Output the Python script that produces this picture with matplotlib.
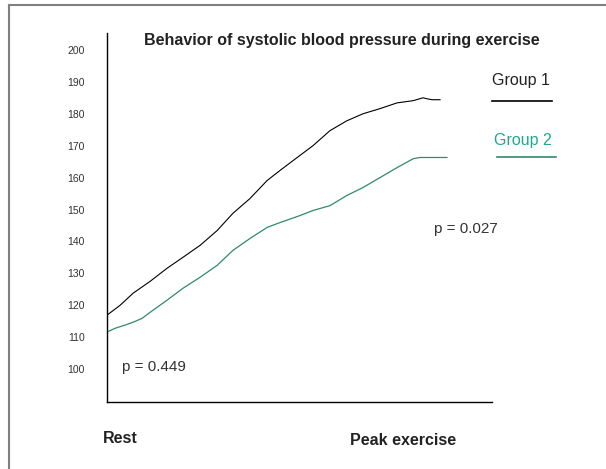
import matplotlib.pyplot as plt
from matplotlib.lines import Line2D

plt.rcParams['font.family'] = ['Liberation Sans', 'DejaVu Sans']

# exercise progress (% from rest to peak) and systolic pressure (mmHg)
g1_x = [0, 3.4, 6.8, 11.2, 15.6, 19.7, 24.2, 28.6, 32.7, 37.1, 41.6, 44.9, 49.4,
        53.5, 57.9, 62.3, 66.5, 70.9, 75.3, 79.5, 82.1, 83.1, 84.4, 86.5]
g1_y = [116.9, 120.0, 123.8, 127.5, 131.6, 135.0, 138.8, 143.4, 148.8, 153.4, 159.1,
        162.2, 166.3, 170.0, 174.7, 177.8, 180.0, 181.6, 183.4, 184.1, 185.0, 184.7,
        184.4, 184.4]
g2_x = [0, 2.1, 4.7, 6.8, 9.1, 11.2, 15.6, 19.7, 24.2, 28.6, 32.7, 37.1, 41.6, 44.9,
        50.1, 53.5, 57.9, 62.3, 66.5, 70.9, 75.3, 79.5, 81.3, 83.9, 88.3]
g2_y = [111.6, 112.8, 113.8, 114.7, 115.9, 117.8, 121.6, 125.3, 128.8, 132.5, 137.2,
        140.9, 144.4, 145.9, 148.1, 149.7, 151.2, 154.4, 156.9, 160.0, 163.1, 165.9,
        166.3, 166.3, 166.3]
yticks = list(range(100, 201, 10))
groups = ["Group 1", "Group 2"]
pvals = ["p = 0.449", "p = 0.027"]

line_green = '#2e8b6b'
text_green = '#1fa88c'

fig = plt.figure(figsize=(6.06, 4.69), dpi=100)
ax = fig.add_axes([107/606, 67/469, 385/606, 369/469])

ax.plot(g1_x, g1_y, color='black', lw=0.8)
ax.plot(g2_x, g2_y, color=line_green, lw=0.9)

ax.set_xlim(0, 100)
ax.set_ylim(89.7, 205.3)
ax.set_xticks([])
ax.set_yticks(yticks)
ax.tick_params(axis='y', length=0, pad=16, labelsize=7.5, labelcolor='#333333')
for s in ['top', 'right']:
    ax.spines[s].set_visible(False)
for s in ['left', 'bottom']:
    ax.spines[s].set_linewidth(1.0)

# group labels with short lines under them
ax.text(100, 190.3, groups[0], fontsize=11.5, color='#222222', va='center', clip_on=False)
ax.plot([100, 115.6], [184.1, 184.1], color='black', lw=1.2, clip_on=False)
ax.text(100.5, 171.6, groups[1], fontsize=11.5, color=text_green, va='center', clip_on=False)
ax.plot([101.3, 116.6], [166.3, 166.3], color=line_green, lw=1.2, clip_on=False)

ax.text(3.9, 100.6, pvals[0], fontsize=11, color='#333333', va='center')
ax.text(84.9, 143.75, pvals[1], fontsize=11, color='#333333', va='center')

fig.text(342/606, 1 - 40/469, "Behavior of systolic blood pressure during exercise",
         ha='center', va='center', fontsize=11.5, fontweight='bold', color='#222222')
fig.text(103/606, 1 - 438/469, "Rest", ha='left', va='center',
         fontsize=11.5, fontweight='bold', color='#222222')
fig.text(350/606, 1 - 440/469, "Peak exercise", ha='left', va='center',
         fontsize=11.5, fontweight='bold', color='#222222')

# gray frame edges (top and left)
fig.add_artist(Line2D([9/606, 1], [1 - 5/469, 1 - 5/469], color='#808080', lw=1.5))
fig.add_artist(Line2D([9/606, 9/606], [0, 1 - 5/469], color='#808080', lw=1.5))

fig.savefig('out.png', dpi=100)
